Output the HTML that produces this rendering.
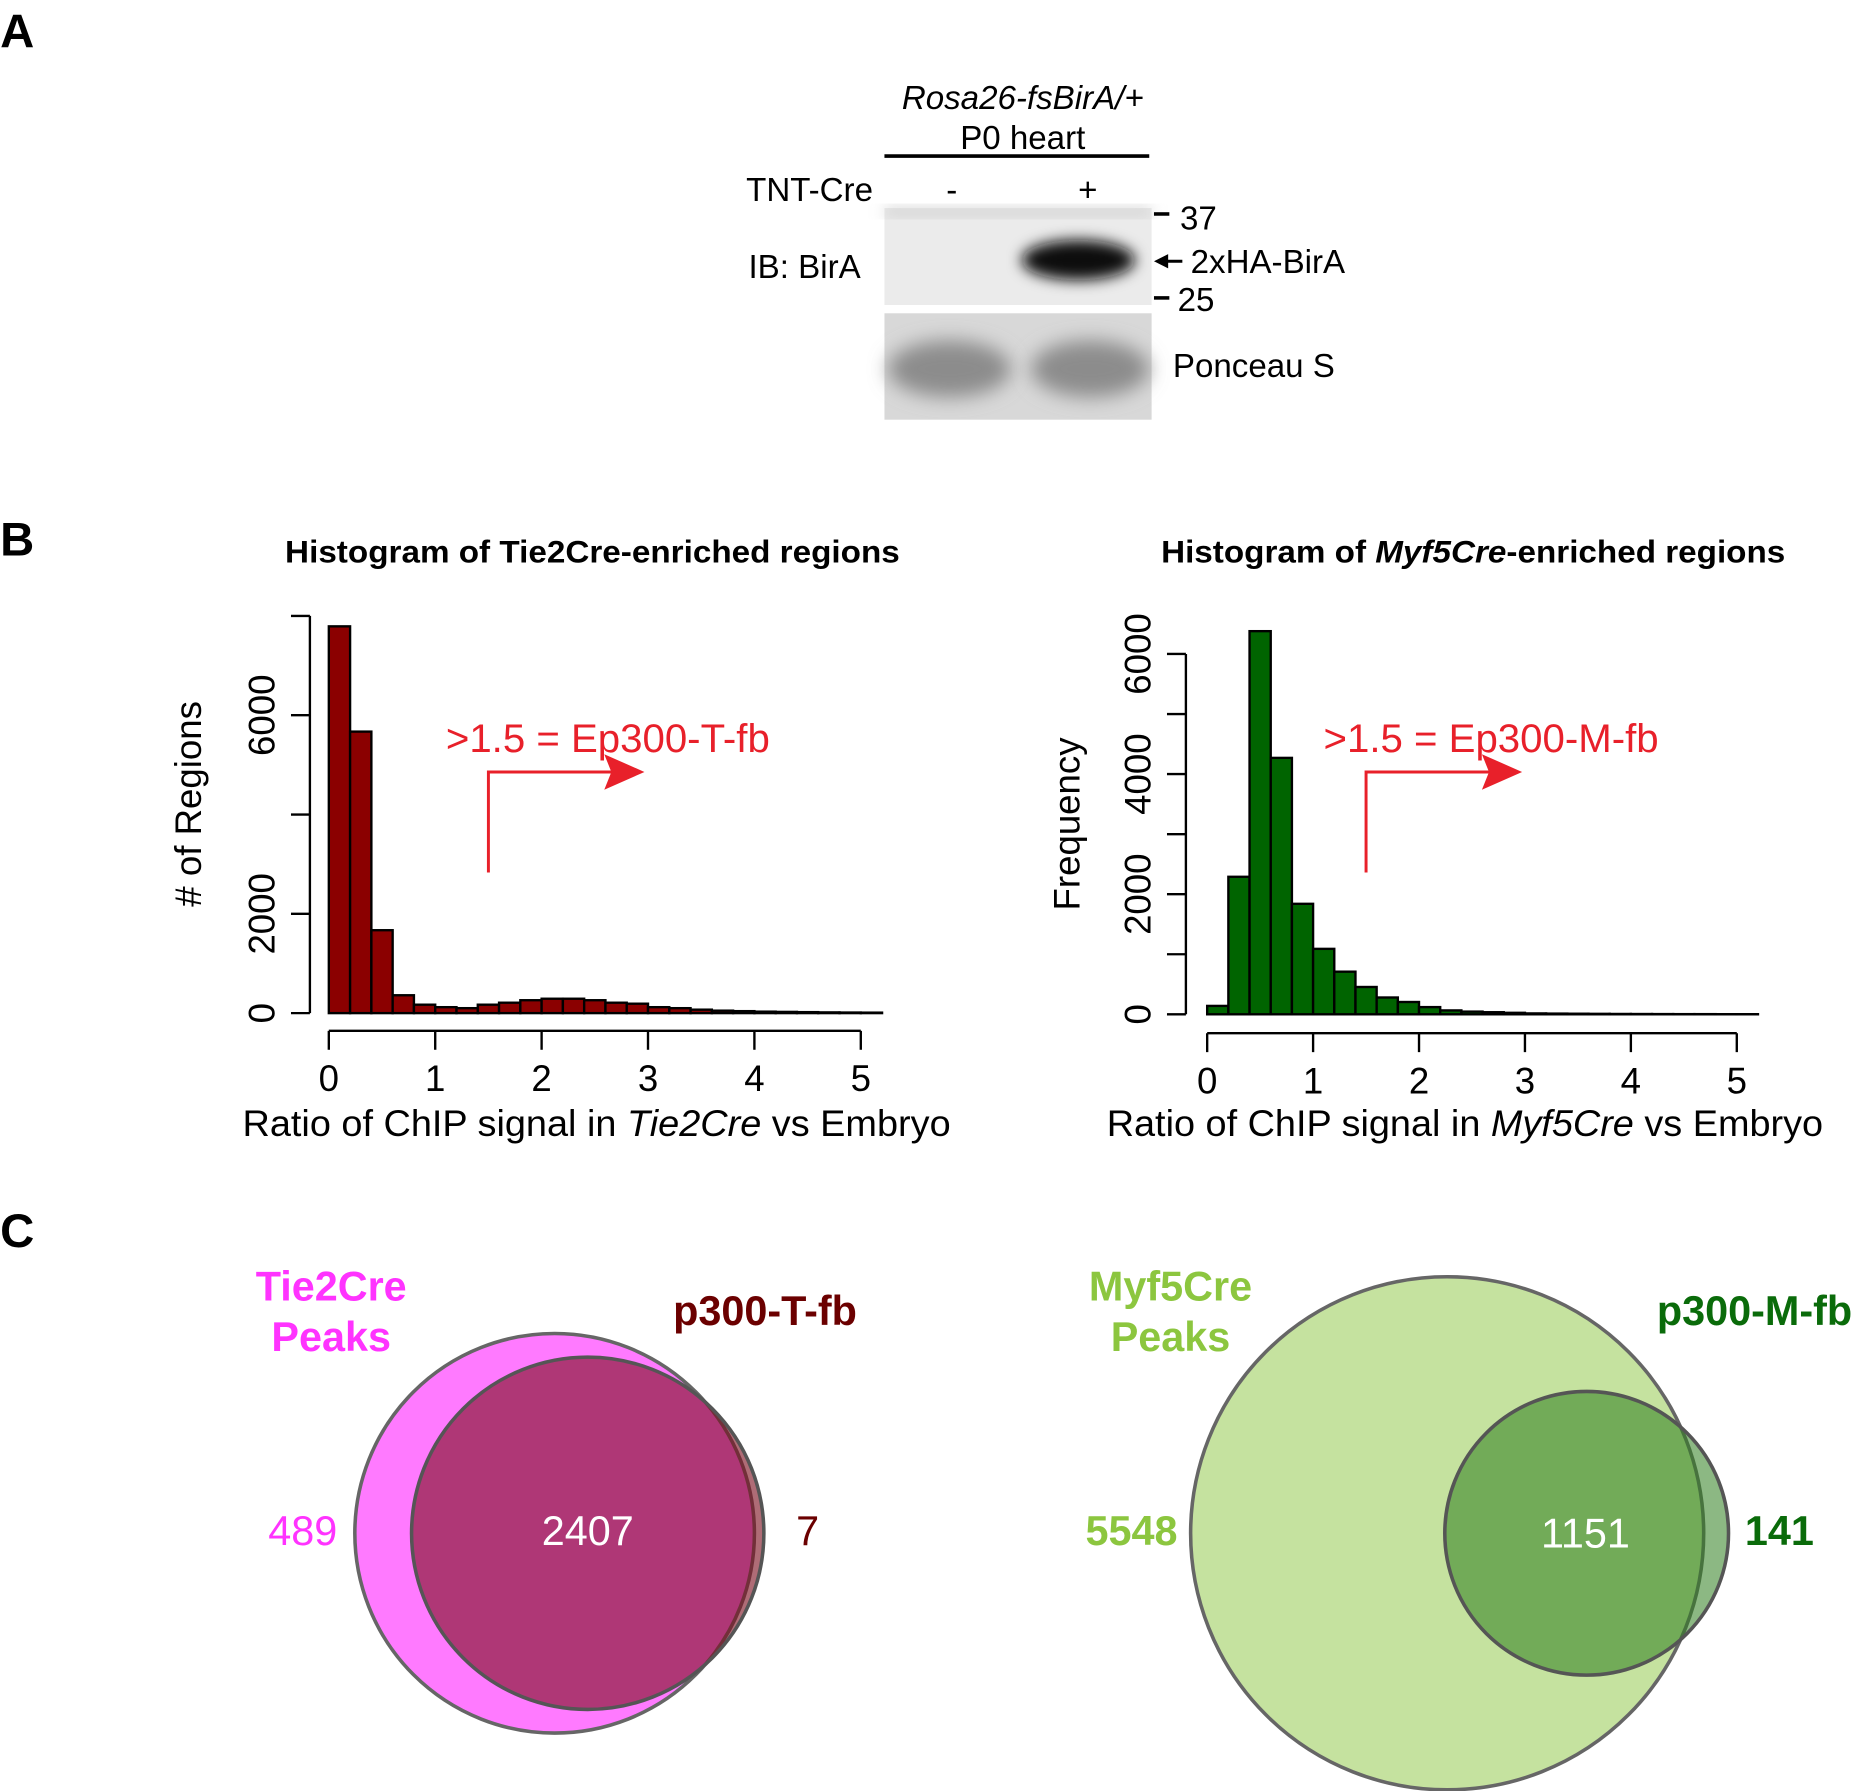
<!DOCTYPE html>
<html><head><meta charset="utf-8"><style>
html,body{margin:0;padding:0;background:#fff;}
svg{display:block;font-family:"Liberation Sans",Arial,sans-serif;}
</style></head><body>
<svg id="fig" width="1854" height="1791" viewBox="0 0 1568 1515" xmlns="http://www.w3.org/2000/svg">
<defs>
<filter id="blur6" x="-30%" y="-60%" width="160%" height="220%"><feGaussianBlur stdDeviation="6"/></filter>
<filter id="blur10" x="-30%" y="-60%" width="160%" height="220%"><feGaussianBlur stdDeviation="8"/></filter>
</defs>
<!-- Panel A -->
<g>
<text x="0" y="40" font-size="40" font-weight="bold">A</text>
<text x="865" y="92" font-size="28" font-style="italic" text-anchor="middle">Rosa26-fsBirA/+</text>
<text x="865" y="126" font-size="28" text-anchor="middle">P0 heart</text>
<line x1="748" y1="132" x2="972" y2="132" stroke="#000" stroke-width="3"/>
<text x="631" y="170" font-size="28">TNT-Cre</text>
<text x="805" y="170" font-size="28" text-anchor="middle">-</text>
<text x="920" y="170" font-size="28" text-anchor="middle">+</text>
<text x="633" y="235" font-size="28">IB: BirA</text>
<g>
<rect x="748" y="176" width="226" height="82" fill="#ebebeb"/>
<rect x="748" y="176" width="226" height="6" fill="#c8c8c8" filter="url(#blur6)"/>
<ellipse cx="912" cy="220" rx="48" ry="17" fill="#111" filter="url(#blur6)"/>
</g>
<g>
<rect x="748" y="265" width="226" height="90" fill="#d8d8d8"/>
<ellipse cx="803" cy="312" rx="52" ry="24" fill="#8c8c8c" filter="url(#blur10)"/>
<ellipse cx="922" cy="312" rx="50" ry="24" fill="#8c8c8c" filter="url(#blur10)"/>
</g>
<line x1="976" y1="181" x2="989" y2="181" stroke="#000" stroke-width="3"/>
<text x="998" y="194" font-size="28">37</text>
<line x1="976" y1="252" x2="989" y2="252" stroke="#000" stroke-width="3"/>
<text x="996" y="263" font-size="28">25</text>
<line x1="984" y1="221" x2="1000" y2="221" stroke="#000" stroke-width="2.5"/>
<polygon points="976,221 988,215 988,227" fill="#000"/>
<text x="1007" y="231" font-size="28">2xHA-BirA</text>
<text x="992" y="319" font-size="28">Ponceau S</text>
</g>
<!-- Panel B -->
<text x="0" y="470" font-size="40" font-weight="bold">B</text>
<text x="501" y="476" font-size="27" font-weight="bold" text-anchor="middle" textLength="520" lengthAdjust="spacingAndGlyphs">Histogram of Tie2Cre-enriched regions</text>
<text x="1246" y="476" font-size="27" font-weight="bold" text-anchor="middle" textLength="528" lengthAdjust="spacingAndGlyphs">Histogram of <tspan font-style="italic">Myf5Cre</tspan>-enriched regions</text>
<g id="histL"></g>
<g id="histR"></g>
<text x="205" y="961" font-size="31" textLength="599" lengthAdjust="spacingAndGlyphs">Ratio of ChIP signal in <tspan font-style="italic">Tie2Cre</tspan> vs Embryo</text>
<text x="936" y="961" font-size="31" textLength="606" lengthAdjust="spacingAndGlyphs">Ratio of ChIP signal in <tspan font-style="italic">Myf5Cre</tspan> vs Embryo</text>
<text transform="translate(170,680) rotate(-90)" font-size="31" text-anchor="middle"># of Regions</text>
<text transform="translate(913,697) rotate(-90)" font-size="31" text-anchor="middle">Frequency</text>
<!-- Panel C -->
<text x="0" y="1055" font-size="40" font-weight="bold">C</text>
<g>
<circle cx="469" cy="1297" r="169" fill="#ff00ff" fill-opacity="0.52" stroke="#666" stroke-width="3"/>
<circle cx="497" cy="1297" r="149" fill="#7a0a1a" fill-opacity="0.6" stroke="#555" stroke-width="3"/>
<text x="280" y="1100" font-size="35" font-weight="bold" fill="#ff33ff" text-anchor="middle">Tie2Cre</text>
<text x="280" y="1143" font-size="35" font-weight="bold" fill="#ff33ff" text-anchor="middle">Peaks</text>
<text x="647" y="1121" font-size="35" font-weight="bold" fill="#6b0000" text-anchor="middle">p300-T-fb</text>
<text x="256" y="1307" font-size="35" fill="#ff33ff" text-anchor="middle">489</text>
<text x="497" y="1307" font-size="35" fill="#fff" text-anchor="middle">2407</text>
<text x="683" y="1307" font-size="35" fill="#6b0000" text-anchor="middle">7</text>
</g>
<g>
<circle cx="1224" cy="1297" r="217" fill="#8cc63f" fill-opacity="0.5" stroke="#666" stroke-width="3"/>
<circle cx="1342" cy="1297" r="120" fill="#2e7d1e" fill-opacity="0.55" stroke="#555" stroke-width="3"/>
<text x="990" y="1100" font-size="35" font-weight="bold" fill="#8cc63f" text-anchor="middle">Myf5Cre</text>
<text x="990" y="1143" font-size="35" font-weight="bold" fill="#8cc63f" text-anchor="middle">Peaks</text>
<text x="1484" y="1121" font-size="35" font-weight="bold" fill="#0a6b0a" text-anchor="middle">p300-M-fb</text>
<text x="957" y="1307" font-size="35" font-weight="bold" fill="#8cc63f" text-anchor="middle">5548</text>
<text x="1341" y="1309" font-size="35" fill="#fff" text-anchor="middle">1151</text>
<text x="1505" y="1307" font-size="35" font-weight="bold" fill="#0a6b0a" text-anchor="middle">141</text>
</g>
</svg>
<script>
const leftCounts = [7790,5670,1670,360,170,120,100,170,210,260,290,290,260,210,190,120,100,70,50,40,30,25,20,15,12,10];
const rightCounts = [140,2290,6380,4270,1840,1090,710,455,280,205,120,65,45,35,25,15,12,10,8,6,5,4,3,3,2,2];
const xTicks = [0,1,2,3,4,5];
const leftYTicks = [0,2000,4000,6000,8000];
const leftYLabels = ["0","2000","","6000",""];
const rightYTicks = [0,1000,2000,3000,4000,5000,6000];
const rightYLabels = ["0","","2000","","4000","","6000"];
const binWidth = 0.2;
const leftLabel = ">1.5 = Ep300-T-fb";
const rightLabel = ">1.5 = Ep300-M-fb";
const threshold = 1.5;

const NS = "http://www.w3.org/2000/svg";
function mk(tag, attrs, parent){const e=document.createElementNS(NS,tag);for(const k in attrs)e.setAttribute(k,attrs[k]);parent.appendChild(e);return e;}

function drawHist(g, counts, yTicks, yLabels, cfg, label){
  const sx = v => cfg.x0 + v*cfg.pxPerUnit;
  const sy = v => cfg.y0 - v*cfg.pxPerCount;
  counts.forEach((c,i)=>{
    const x = sx(i*binWidth), w = sx((i+1)*binWidth)-x;
    const r = mk('rect',{x:x,y:sy(c),width:w,height:cfg.y0-sy(c),fill:cfg.color,stroke:'#000','stroke-width':2},g);
    
    
  });
  const ya = mk('line',{x1:cfg.yAxisX,y1:sy(yTicks[0]),x2:cfg.yAxisX,y2:sy(yTicks[yTicks.length-1]),stroke:'#000','stroke-width':2},g);
  
  
  yTicks.forEach((t,i)=>{
    mk('line',{x1:cfg.yAxisX-16,y1:sy(t),x2:cfg.yAxisX,y2:sy(t),stroke:'#000','stroke-width':2},g);
    if(yLabels[i]){
      const tx = mk('text',{transform:`translate(${cfg.yAxisX-30},${sy(t)}) rotate(-90)`,'font-size':31,'text-anchor':'middle'},g);
      tx.textContent = yLabels[i];
      
      
    }
  });
  const xa = mk('line',{x1:sx(xTicks[0]),y1:cfg.xAxisY,x2:sx(xTicks[xTicks.length-1]),y2:cfg.xAxisY,stroke:'#000','stroke-width':2},g);
  
  
  xTicks.forEach(t=>{
    mk('line',{x1:sx(t),y1:cfg.xAxisY,x2:sx(t),y2:cfg.xAxisY+16,stroke:'#000','stroke-width':2},g);
    const tx = mk('text',{x:sx(t),y:cfg.xAxisY+51,'font-size':31,'text-anchor':'middle'},g);
    tx.textContent = t;
    
    
  });
  const ax = sx(threshold);
  const ap = mk('path',{d:`M${ax},738 V653 H${ax+108}`,fill:'none',stroke:'#e8202a','stroke-width':2.5},g);
  
  
  mk('polygon',{points:`${ax+98},638 ${ax+132},653 ${ax+98},668 ${ax+104},653`,fill:'#e8202a'},g);
  const lt = mk('text',{x:ax-36,y:636,'font-size':34,fill:'#e8202a'},g);
  lt.textContent = label;
  
  
}
drawHist(document.getElementById('histL'), leftCounts, leftYTicks, leftYLabels,
  {x0:278,pxPerUnit:90,y0:857,pxPerCount:0.042,color:'#8b0000',yAxisX:262,xAxisY:872}, leftLabel);
drawHist(document.getElementById('histR'), rightCounts, rightYTicks, rightYLabels,
  {x0:1021,pxPerUnit:89.6,y0:858,pxPerCount:0.0508,color:'#006400',yAxisX:1003,xAxisY:874}, rightLabel);
</script>
</body></html>
